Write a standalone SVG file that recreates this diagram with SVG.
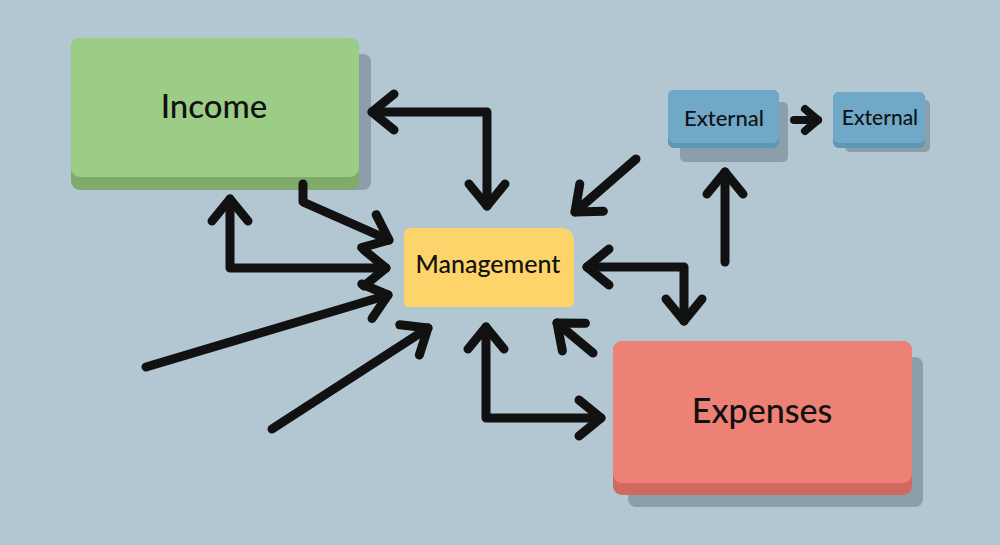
<svg xmlns="http://www.w3.org/2000/svg" width="1000" height="545" viewBox="0 0 1000 545">
  <defs>
    <style>
      .bg { fill: #b3c7d3; }
      .shadow { fill: #8b9ea9; }
      .lbl { font-family: Lato, "Open Sans", "Liberation Sans", sans-serif; fill: #111; text-anchor: middle; }
      .med { font-weight: 500; }
      .conn { fill: none; stroke: #111; stroke-width: 9; stroke-linecap: round; stroke-linejoin: round; }
      .thin { stroke-width: 8; }
      .head { fill: none; stroke: #111; stroke-width: 9; stroke-linecap: round; stroke-linejoin: round; }
    </style>
    <marker id="chev" markerUnits="userSpaceOnUse" viewBox="-30 -30 60 60" markerWidth="60" markerHeight="60" refX="0" refY="0" orient="auto-start-reverse" overflow="visible">
      <path class="head" d="M-22,-18 L0,0 L-22,18"/>
    </marker>
    <marker id="chevS" markerUnits="userSpaceOnUse" viewBox="-30 -30 60 60" markerWidth="60" markerHeight="60" refX="0" refY="0" orient="auto-start-reverse" overflow="visible">
      <path class="head" style="stroke-width:8" d="M-13,-11 L0,0 L-13,11"/>
    </marker>
  </defs>

  <rect class="bg" x="0" y="0" width="1000" height="545"/>

  <g id="income">
    <rect class="shadow" x="83" y="54" width="288" height="136" rx="8"/>
    <rect x="71" y="38" width="288" height="152" rx="9" fill="#7eaa6a"/>
    <rect x="71" y="38" width="288" height="139" rx="9" fill="#9ccd87"/>
    <text class="lbl med" x="214" y="118" font-size="33">Income</text>
  </g>

  <g id="management">
    <path d="M410,228 H560 Q574,228 574,242 V301 Q574,307 568,307 H410 Q404,307 404,301 V234 Q404,228 410,228 Z" fill="#fcd46a"/>
    <text class="lbl med" x="488" y="273" font-size="25">Management</text>
  </g>

  <g id="external1">
    <rect class="shadow" x="680" y="102" width="108" height="60" rx="5"/>
    <rect x="668" y="90" width="111" height="58" rx="6" fill="#5e96b6"/>
    <rect x="668" y="90" width="111" height="53" rx="6" fill="#70a9c8"/>
    <text class="lbl med" x="724" y="126" font-size="22">External</text>
  </g>

  <g id="external2">
    <rect class="shadow" x="845" y="100" width="85" height="52" rx="5"/>
    <rect x="833" y="92" width="92" height="56" rx="6" fill="#5e96b6"/>
    <rect x="833" y="92" width="92" height="51" rx="6" fill="#70a9c8"/>
    <text class="lbl med" x="880" y="125" font-size="21">External</text>
  </g>

  <g id="expenses">
    <rect class="shadow" x="628" y="357" width="295" height="150" rx="8"/>
    <rect x="613" y="341" width="299" height="154" rx="9" fill="#d06a5f"/>
    <rect x="613" y="341" width="299" height="142" rx="9" fill="#ee8175"/>
    <text class="lbl med" x="762" y="423" font-size="34">Expenses</text>
  </g>

  <g id="connectors">
    <path class="conn" d="M372,112 H487 V206" marker-start="url(#chev)" marker-end="url(#chev)"/>
    <path class="conn" d="M303,184 V202 L389,240" marker-end="url(#chev)"/>
    <path class="conn" d="M230,199 V268 H386" marker-start="url(#chev)" marker-end="url(#chev)"/>
    <path class="conn" d="M146,367 L388,295" marker-end="url(#chev)"/>
    <path class="conn" d="M272,429 L428,328" marker-end="url(#chev)"/>
    <path class="conn" d="M636,159 L575,212" marker-end="url(#chev)"/>
    <path class="conn" d="M587,267 H684 V321" marker-start="url(#chev)" marker-end="url(#chev)"/>
    <path class="conn" d="M725,262 V172" marker-end="url(#chev)"/>
    <path class="conn" d="M486,327 V418 H601" marker-start="url(#chev)" marker-end="url(#chev)"/>
    <path class="conn" d="M593,353 L557,323" marker-end="url(#chev)"/>
    <path class="conn thin" d="M794,120 H818" marker-end="url(#chevS)"/>
  </g>
</svg>
